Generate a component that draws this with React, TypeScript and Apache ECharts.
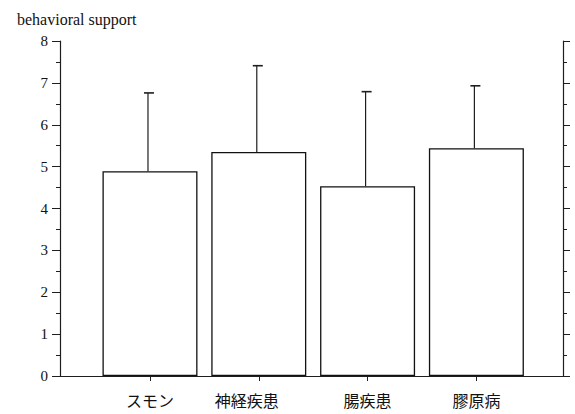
import React, { useEffect, useRef } from "react";
import * as echarts from "echarts";

const categories = ["スモン", "神経疾患", "腸疾患", "膠原病"];
const means = [4.89, 5.35, 4.53, 5.44];
const sds = [1.87, 2.06, 2.26, 1.49];
const yTicks = [0, 1, 2, 3, 4, 5, 6, 7, 8];

const serif = "'Liberation Serif', 'DejaVu Serif', serif";
const cjk = "'Noto Sans CJK JP', sans-serif";
const ink = "#1e1e1e";

export default function App() {
  const ref = useRef<HTMLDivElement>(null);
  useEffect(() => {
    if (!ref.current) return;
    const chart = echarts.init(ref.current, undefined, { renderer: "svg" });
    const positions = categories.map((_, i) => i + 1);
    const barData = positions.map((p, i) => [p, means[i]]);
    const errData = positions.map((p, i) => [p, means[i], means[i] + sds[i]]);
    const xMin = 0.173;
    const xMax = 4.796;
    chart.setOption({
      animation: false,
      backgroundColor: "#ffffff",
      title: {
        text: "behavioral support",
        left: 12,
        top: 6,
        textStyle: { fontFamily: serif, fontSize: 16, fontWeight: "normal", color: "#111" },
      },
      grid: { left: 60, right: 12, top: 41, bottom: 38 },
      xAxis: [
        {
          type: "value",
          position: "bottom",
          min: xMin,
          max: xMax,
          axisLine: { show: true, lineStyle: { color: ink, width: 1.2 } },
          axisTick: { show: true, length: 5, inside: false, customValues: positions, lineStyle: { color: ink } },
          axisLabel: {
            show: true,
            customValues: positions,
            margin: 16,
            fontFamily: cjk,
            fontSize: 16,
            color: "#111",
            formatter: (v: number) => {
              const i = Math.round(v) - 1;
              const name = categories[i] ?? "";
              return i === 1 ? "{s|" + name + "}" : name;
            },
            rich: {
              s: { fontFamily: cjk, fontSize: 16, color: "#111", padding: [0, 24, 0, 0] },
            },
          },
          splitLine: { show: false },
        },
        {
          type: "value",
          position: "top",
          min: xMin,
          max: xMax,
          axisLine: { show: true, lineStyle: { color: ink, width: 1.2 } },
          axisTick: { show: true, length: 5, inside: false, customValues: [1, 2], lineStyle: { color: ink } },
          axisLabel: { show: false },
          splitLine: { show: false },
        },
      ],
      yAxis: [
        {
          type: "value",
          position: "left",
          min: 0,
          max: 8,
          interval: 1,
          axisLine: { show: true, lineStyle: { color: ink, width: 1.2 } },
          axisTick: { show: true, length: 8, lineStyle: { color: ink } },
          minorTick: { show: true, splitNumber: 2, length: 4, lineStyle: { color: ink } },
          axisLabel: {
            margin: 12,
            fontFamily: serif,
            fontSize: 15,
            color: "#111",
            formatter: (v: number) => (yTicks.includes(v) ? String(v) : ""),
          },
          splitLine: { show: false },
        },
        {
          type: "value",
          position: "right",
          min: 0,
          max: 8,
          interval: 1,
          axisLine: { show: true, lineStyle: { color: ink, width: 1.2 } },
          axisTick: { show: true, length: 7, lineStyle: { color: ink } },
          minorTick: { show: true, splitNumber: 2, length: 4, lineStyle: { color: ink } },
          axisLabel: { show: false },
          splitLine: { show: false },
        },
      ],
      series: [
        {
          type: "bar",
          xAxisIndex: 0,
          yAxisIndex: 0,
          data: barData,
          barWidth: 95,
          itemStyle: { color: "#ffffff", borderColor: "#111", borderWidth: 1.3 },
          z: 2,
        },
        {
          type: "custom",
          xAxisIndex: 0,
          yAxisIndex: 0,
          data: errData,
          z: 3,
          renderItem: (params: any, api: any) => {
            const x = api.value(0);
            const lo = api.coord([x, api.value(1)]);
            const hi = api.coord([x, api.value(2)]);
            const cx = lo[0] - 2;
            return {
              type: "group",
              children: [
                {
                  type: "line",
                  shape: { x1: cx, y1: lo[1], x2: cx, y2: hi[1] },
                  style: { stroke: ink, lineWidth: 1.2 },
                },
                {
                  type: "line",
                  shape: { x1: cx - 4, y1: hi[1], x2: cx + 6, y2: hi[1] },
                  style: { stroke: ink, lineWidth: 1.6 },
                },
              ],
            };
          },
        },
      ],
    });
    return () => chart.dispose();
  }, []);
  return (
    <div
      ref={ref}
      style={{ position: "absolute", left: 0, top: 0, width: 575, height: 414 }}
    />
  );
}
